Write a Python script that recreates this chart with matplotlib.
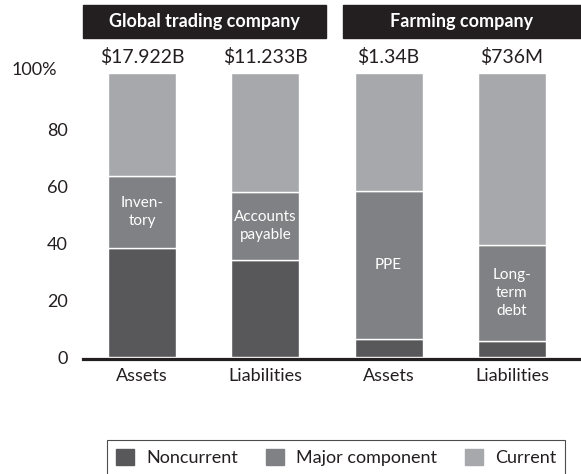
import matplotlib.pyplot as plt
from matplotlib.patches import Rectangle, Patch

plt.rcParams['font.family'] = ['Lato', 'DejaVu Sans']

# data
categories = ['Assets', 'Liabilities', 'Assets', 'Liabilities']
totals = ['$17.922B', '$11.233B', '$1.34B', '$736M']
noncurrent = [38.5, 34.2, 6.2, 5.5]
major = [25.2, 23.9, 52.4, 34.0]
current = [36.3, 41.9, 41.4, 60.5]
major_labels = ['Inven-\ntory', 'Accounts\npayable', 'PPE', 'Long-\nterm\ndebt']
groups = ['Global trading company', 'Farming company']
series_names = ['Noncurrent', 'Major component', 'Current']
yticks = [0, 20, 40, 60, 80]

c_non = '#58585a'
c_major = '#808184'
c_cur = '#a7a8ab'
c_dark = '#231f20'

fig = plt.figure(figsize=(5.81, 4.74), dpi=100)
ax = fig.add_axes([83 / 581, 117 / 474, 498 / 581, 284 / 474])

x = list(range(len(categories)))
w = 0.55
bottom2 = [a + b for a, b in zip(noncurrent, major)]
ax.bar(x, noncurrent, w, color=c_non, edgecolor='white', linewidth=1)
ax.bar(x, major, w, bottom=noncurrent, color=c_major, edgecolor='white', linewidth=1)
ax.bar(x, current, w, bottom=bottom2, color=c_cur, edgecolor='white', linewidth=1)

# labels inside the major component segment
for i in x:
    ax.text(i, noncurrent[i] + major[i] / 2, major_labels[i], ha='center', va='center',
            color='white', fontsize=11, linespacing=1.35)

# totals above bars
for i in x:
    ax.text(i, 105.6, totals[i], ha='center', va='center', fontsize=14, color=c_dark)

ax.set_xlim(-0.4785, 3.5604)
ax.set_ylim(0, 100)
ax.set_xticks(x, categories)
ax.set_yticks(yticks + [100], [str(t) for t in yticks] + [''])
ax.tick_params(axis='both', length=0, labelsize=13, labelcolor=c_dark)
ax.tick_params(axis='y', pad=11)
ax.tick_params(axis='x', pad=7)
ax.text(-0.689, 101, '100%', ha='right', va='center', fontsize=13, color=c_dark,
        transform=ax.transData)
for s in ['left', 'right', 'top']:
    ax.spines[s].set_visible(False)
ax.spines['bottom'].set_linewidth(2.3)
ax.spines['bottom'].set_color(c_dark)
ax.spines['bottom'].set_position(('outward', 1.2))

# group header boxes
header_boxes = [(83, 326), (343, 581)]
for name, (x0, x1) in zip(groups, header_boxes):
    fig.patches.append(Rectangle((x0 / 581, 1 - 38 / 474), (x1 - x0) / 581, 33 / 474,
                                 transform=fig.transFigure, color=c_dark))
    fig.text((x0 + x1) / 2 / 581, 1 - 21.5 / 474, name, ha='center', va='center',
             color='white', fontsize=13, fontweight='bold')

# legend box runs off the bottom edge, as in the reference
handles = [Patch(color=c) for c in [c_non, c_major, c_cur]]
leg = fig.legend(handles, series_names, loc='upper center', bbox_to_anchor=(336 / 581, 1 - 440 / 474),
                 ncol=3, fontsize=13, frameon=True, fancybox=False, handlelength=1.0,
                 handleheight=1.0, handletextpad=0.67, columnspacing=1.55, borderpad=0.5,
                 labelcolor=c_dark, borderaxespad=0)
leg.get_frame().set_edgecolor(c_dark)
leg.get_frame().set_linewidth(0.8)

fig.savefig('out.png', dpi=100)
